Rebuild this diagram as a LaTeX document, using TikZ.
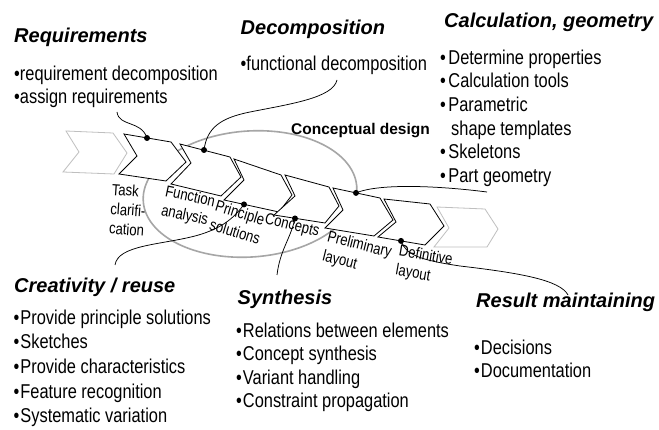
\documentclass[tikz,border=0pt]{standalone}
\usepackage{fontspec}
\setmainfont{Liberation Sans}
\newfontfamily\narrowfont[FakeStretch=0.82]{Liberation Sans}
\begin{document}
\begin{tikzpicture}[x=1pt,y=-1pt,
  hdr/.style={font=\fontsize{20}{24}\selectfont\bfseries\itshape, anchor=base west, inner sep=0},
  bodytxt/.style={font=\narrowfont\fontsize{20}{24}\selectfont, anchor=base west, inner sep=0},
  lbl/.style={font=\narrowfont\fontsize{16}{19.5}\selectfont, align=left, inner sep=0},
  chev/.style={draw=black, fill=white, line width=0.8pt, line join=miter},
  gchev/.style={draw=black!25, fill=white, line width=0.8pt},
  ell/.style={draw=black!35, line width=1.6pt},
  dotn/.style={circle, fill=black, inner sep=0, minimum size=6pt},
  conn/.style={draw=black, line width=0.75pt}]
\path[fill=white, use as bounding box] (0,0) rectangle (659,430);

% conceptual design ellipse
\draw[ell] plot[domain=0:360, samples=90, smooth cycle]
  ({250+107*cos(\x)*cos(4)+63*sin(\x)*sin(4)}, {194-107*cos(\x)*sin(4)+63*sin(\x)*cos(4)});

% chevrons
\draw[gchev] (66,131) -- (113,133) -- (127,153) -- (114,174) -- (63,172) -- (79,152) -- cycle;
\draw[chev] (124,134) -- (171,142) -- (186,162) -- (166,181) -- (119,174) -- (137,156) -- cycle;
\draw[chev] (180,144) -- (230,157) -- (241,177) -- (221,196) -- (171,184) -- (191,163) -- cycle;
\draw[chev] (234,159) -- (281,175) -- (292,195) -- (279,212) -- (224,200) -- (244,180) -- cycle;
\draw[chev] (285,175) -- (329,187) -- (339,206) -- (325,223) -- (274,215) -- (295,196) -- cycle;
\draw[chev] (333,188) -- (380,198) -- (393,220) -- (374,236) -- (325,228) -- (343,210) -- cycle;
\draw[chev] (384,199) -- (430,204) -- (444,226) -- (425,245) -- (378,237) -- (396,222) -- cycle;
\draw[gchev] (437,207) -- (485,209) -- (498,229) -- (487,247) -- (434,247) -- (449,228) -- cycle;

% chevron labels
\node[lbl, rotate=-4]  (ltask) at (128,210) {Task\\clarifi-\\cation};
\node[lbl, rotate=-12] (lfun)  at (188,207) {Function\\analysis};
\node[lbl, rotate=-17] (lprin) at (238,222) {Principle\\solutions};
\node[lbl, rotate=-14] (lconc) at (292,226) {Concepts};
\node[lbl, rotate=-14] (lprel) at (357,255) {Preliminary\\layout};
\node[lbl, rotate=-10] (ldef)  at (424,266) {Definitive\\layout};

\node[font=\fontsize{15.5}{18}\selectfont\bfseries, anchor=base west, inner sep=0] (concd) at (291,134.5) {Conceptual design};

% Requirements
\node[hdr] (hreq) at (14,43) {Requirements};
\node[bodytxt] (req1) at (14,81) {•requirement decomposition};
\node[bodytxt] (req2) at (14,104) {•assign requirements};

% Decomposition
\node[hdr] (hdec) at (240.5,34.5) {Decomposition};
\node[bodytxt] (dec1) at (240.5,71) {•functional decomposition};

% Calculation, geometry
\node[hdr] (hcal) at (444,28) {Calculation, geometry};
\node[bodytxt] (cal1) at (440,64.3) {•\kern2.5pt Determine properties};
\node[bodytxt] (cal2) at (440,87.9) {•\kern2.5pt Calculation tools};
\node[bodytxt] (cal3) at (440,111.5) {•\kern2.5pt Parametric};
\node[bodytxt] (cal4) at (451,135.1) {shape templates};
\node[bodytxt] (cal5) at (440,158.7) {•\kern2.5pt Skeletons};
\node[bodytxt] (cal6) at (440,182.3) {•\kern2.5pt Part geometry};

% Creativity / reuse
\node[hdr] (hcre) at (14,292.6) {Creativity / reuse};
\node[bodytxt] (cre1) at (13.5,324.3) {•\kern1pt Provide principle solutions};
\node[bodytxt] (cre2) at (13.5,348.9) {•\kern1pt Sketches};
\node[bodytxt] (cre3) at (13.5,373.5) {•\kern1pt Provide characteristics};
\node[bodytxt] (cre4) at (13.5,398.1) {•\kern1pt Feature recognition};
\node[bodytxt] (cre5) at (13.5,422.6) {•\kern1pt Systematic variation};

% Synthesis
\node[hdr] (hsyn) at (237.5,304.3) {Synthesis};
\node[bodytxt] (syn1) at (236,337.6) {•\kern1pt Relations between elements};
\node[bodytxt] (syn2) at (236,361) {•\kern1pt Concept synthesis};
\node[bodytxt] (syn3) at (236,384.3) {•\kern1pt Variant handling};
\node[bodytxt] (syn4) at (236,407.6) {•\kern1pt Constraint propagation};

% Result maintaining
\node[hdr] (hres) at (476,307.6) {Result maintaining};
\node[bodytxt] (res1) at (474,354.3) {•\kern1pt Decisions};
\node[bodytxt] (res2) at (474,377.6) {•\kern1pt Documentation};

% connector ends
\coordinate (creq) at (117,112);
\coordinate (cdec) at (337,80);
\coordinate (ccre) at (115,265);
\coordinate (csyn) at (277,275);
\coordinate (ccal) at (487,192);
\coordinate (cres) at (568,295);

% dots
\node[dotn] (d1) at (147,138) {};
\node[dotn] (d2) at (204,150) {};
\node[dotn] (d3) at (244,204.4) {};
\node[dotn] (d4) at (295,218.5) {};
\node[dotn] (d5) at (356,192.9) {};
\node[dotn] (d6) at (401,240.9) {};

% connectors
\draw[conn] (creq) .. controls (119,127) and (141,120) .. (d1.center);
\draw[conn] (d2.center) .. controls (207,128) and (220,118) .. (250,112) .. controls (290,104) and (333,98) .. (cdec);
\draw[conn] (d3.center) .. controls (236,215) and (225,228) .. (195,236) .. controls (160,245) and (118,245) .. (ccre);
\draw[conn] (d4.center) .. controls (290,240) and (280,250) .. (csyn);
\draw[conn] (d5.center) .. controls (380,183) and (440,186) .. (ccal);
\draw[conn] (d6.center) .. controls (406,255) and (420,260) .. (460,266) .. controls (520,273) and (560,280) .. (cres);
\end{tikzpicture}
\end{document}
